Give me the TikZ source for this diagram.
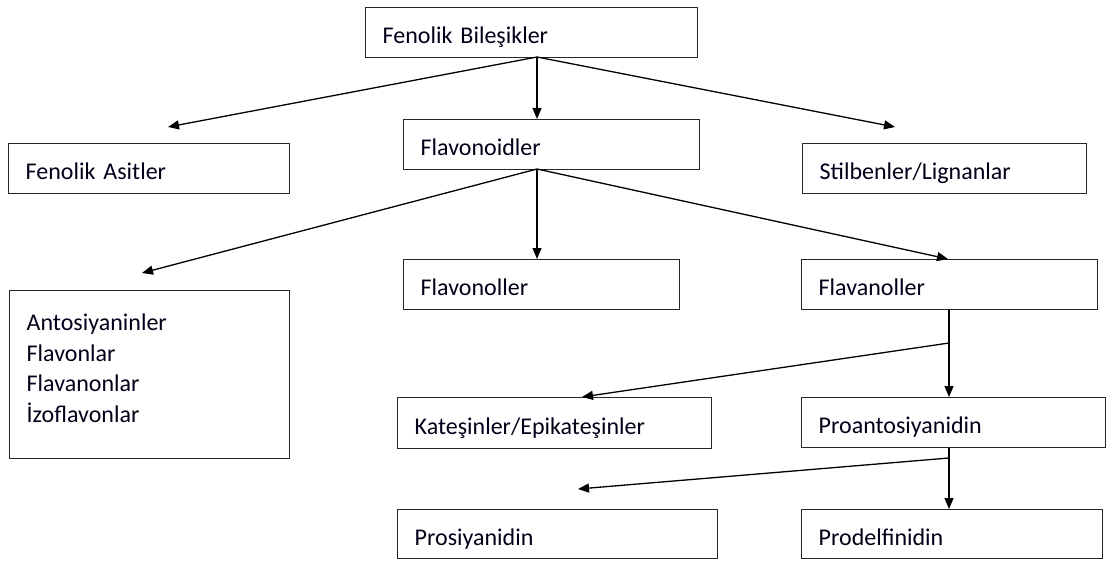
\documentclass[tikz,border=0pt]{standalone}
\usepackage{fontspec}
\setmainfont{Carlito}
\usetikzlibrary{arrows.meta,calc}
\newcommand\myboxfont{\fontsize{24}{30.5}\selectfont\spaceskip=3.5pt\relax}
\tikzset{
  box/.style={draw=black!85, line width=1.4pt, rectangle, anchor=north west,
    inner xsep=17pt, inner ysep=0pt, align=left,
    font=\myboxfont, text=black!90!blue,
    text height=22pt, text depth=0pt},
  conn/.style={draw=black, line width=1.3pt, -{Triangle[length=11pt,width=9pt]}},
  plain/.style={draw=black, line width=1.3pt}
}
\begin{document}
\begin{tikzpicture}[x=1pt,y=-1pt]
\useasboundingbox (0,0) rectangle (1107,561);
% boxes: at (left,top), width, height
\node[box, text width=298pt, minimum height=50pt] (fb) at (365,7) {Fenolik Bileşikler};
\node[box, text width=247pt, minimum height=50pt] (fa) at (8,143) {Fenolik Asitler};
\node[box, text width=262pt, minimum height=50pt] (fd) at (403,119) {Flavonoidler};
\node[box, text width=250pt, minimum height=50pt] (sl) at (802,143) {Stilbenler/Lignanlar};
\node[box, text width=246pt, minimum height=168pt, text depth=110pt] (an) at (9,290)
  {Antosiyaninler\\Flavonlar\\Flavanonlar\\İzoflavonlar};
\node[box, text width=242pt, minimum height=50pt] (fo) at (403,259) {Flavonoller};
\node[box, text width=262pt, minimum height=50pt] (fv) at (801,259) {Flavanoller};
\node[box, text width=280pt, minimum height=51pt] (ke) at (397,397) {Kateşinler/Epikateşinler};
\node[box, text width=270pt, minimum height=50pt] (pa) at (801,397) {Proantosiyanidin};
\node[box, text width=286pt, minimum height=49pt] (ps) at (397,509) {Prosiyanidin};
\node[box, text width=267pt, minimum height=49pt] (pd) at (801,509) {Prodelfinidin};
% connector anchor points
\coordinate (fbo) at (537,57);
\coordinate (fdo) at (537,169);
\coordinate (faTip) at (168,127);
\coordinate (slTip) at (895,127);
\coordinate (anTip) at (142,273);
\coordinate (fvx) at (948,259);
\coordinate (vx) at (949,0);
\coordinate (br1) at (949,343);
\coordinate (kex) at (582,0);
\coordinate (br2) at (949,458);
\coordinate (psTip) at (578,489);
% connectors
\draw[conn] (fbo) -- (faTip);
\draw[conn] (fbo) -- (fd.north -| fbo);
\draw[conn] (fbo) -- (slTip);
\draw[conn] (fdo) -- (anTip);
\draw[conn] (fdo) -- (fo.north -| fdo);
\draw[conn] (fdo) -- (fv.north -| fvx);
\draw[conn] (fv.south -| vx) -- (pa.north -| vx);
\draw[conn] (br1) -- (ke.north -| kex);
\draw[conn] (pa.south -| vx) -- (pd.north -| vx);
\draw[conn] (br2) -- (psTip);
\end{tikzpicture}
\end{document}
